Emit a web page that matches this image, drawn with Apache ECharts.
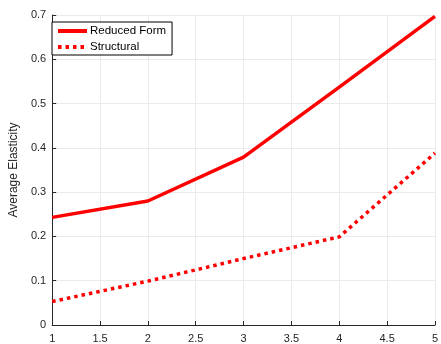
<!DOCTYPE html>
<html>
<head>
<meta charset="utf-8">
<script src="https://cdn.jsdelivr.net/npm/echarts@6/dist/echarts.min.js"></script>
<style>
html,body{margin:0;padding:0;background:#fff;}
#chart{width:441px;height:344px;}
</style>
</head>
<body>
<div id="chart"></div>
<script>
// Positions along the x axis
const xValues = [1, 2, 3, 4, 5];
// Average elasticity estimates
const reducedForm = [0.243, 0.280, 0.379, 0.537, 0.697];
const structural = [0.053, 0.099, 0.150, 0.199, 0.388];
const seriesNames = ['Reduced Form', 'Structural'];
const yAxisTitle = 'Average Elasticity';

const fontFamily = '"Liberation Sans", Arial, Helvetica, sans-serif';
const axisColor = '#262626';

const chart = echarts.init(document.getElementById('chart'), null, {renderer: 'canvas'});
chart.setOption({
  animation: false,
  backgroundColor: '#fff',
  grid: {left: 45, right: 3, top: 15, bottom: 19, containLabel: false},
  legend: {
    left: 52, top: 22,
    orient: 'vertical',
    itemWidth: 29, itemHeight: 12, itemGap: 4,
    padding: [3, 6, 2, 4],
    borderColor: '#000', borderWidth: 1,
    backgroundColor: '#fff',
    // hide the marker that line-series legend icons draw in the middle
    itemStyle: {opacity: 0},
    lineStyle: {width: 4},
    textStyle: {fontFamily, fontSize: 11.5, color: '#000', padding: [0, 0, 0, -2]},
    data: seriesNames
  },
  xAxis: {
    type: 'value', min: 1, max: 5, interval: 0.5,
    axisLine: {show: true, lineStyle: {color: axisColor, width: 1}},
    axisTick: {show: true, inside: true, length: 4, lineStyle: {color: axisColor}},
    axisLabel: {fontFamily, fontSize: 11, color: axisColor, margin: 8},
    splitLine: {show: true, lineStyle: {color: '#ebebeb', width: 1}}
  },
  yAxis: {
    type: 'value', min: 0, max: 0.7, interval: 0.1,
    name: yAxisTitle, nameLocation: 'middle', nameGap: 31,
    nameTextStyle: {fontFamily, fontSize: 12, color: axisColor},
    axisLine: {show: true, lineStyle: {color: axisColor, width: 1}},
    axisTick: {show: true, inside: true, length: 4, lineStyle: {color: axisColor}},
    axisLabel: {fontFamily, fontSize: 11, color: axisColor, margin: 6,
      formatter: v => String(Math.round(v * 10) / 10)},
    splitLine: {show: true, lineStyle: {color: '#ebebeb', width: 1}}
  },
  series: [
    {
      name: seriesNames[0], type: 'line', symbol: 'none',
      data: xValues.map((x, i) => [x, reducedForm[i]]),
      lineStyle: {color: '#ff0000', width: 3.5, type: 'solid'},
      itemStyle: {color: '#ff0000'}
    },
    {
      name: seriesNames[1], type: 'line', symbol: 'none',
      data: xValues.map((x, i) => [x, structural[i]]),
      lineStyle: {color: '#ff0000', width: 3.5, type: [3.5, 4], cap: 'butt'},
      itemStyle: {color: '#ff0000'}
    }
  ]
});
</script>
</body>
</html>
